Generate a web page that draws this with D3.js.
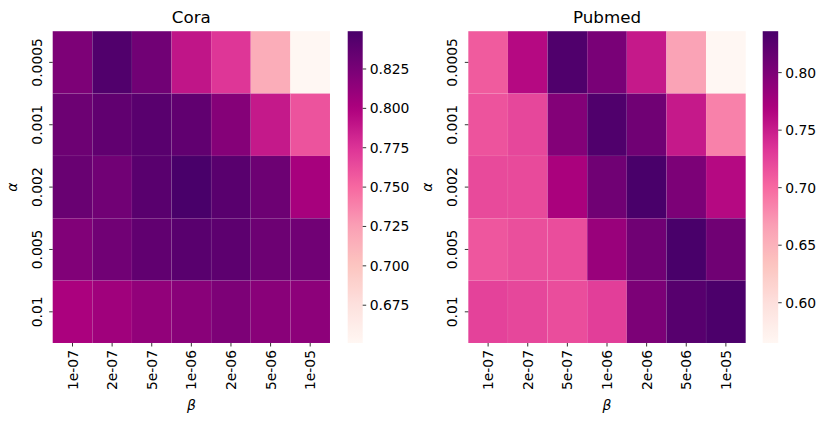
<!DOCTYPE html>
<html>
<head>
<meta charset="utf-8">
<script src="https://cdn.jsdelivr.net/npm/d3@7"></script>
<style>
  body { margin: 0; background: #fff; }
  svg { font-family: "DejaVu Sans", sans-serif; }
</style>
</head>
<body>
<div id="chart"></div>
<script>
// tick labels
const betaLabels = ["1e-07", "2e-07", "5e-07", "1e-06", "2e-06", "5e-06", "1e-05"];
const alphaLabels = ["0.0005", "0.001", "0.002", "0.005", "0.01"];

// accuracy grid, rows = alpha, cols = beta
const coraValues = [
  [0.823, 0.845, 0.829, 0.790, 0.774, 0.716, 0.651],
  [0.831, 0.837, 0.841, 0.837, 0.819, 0.788, 0.760],
  [0.833, 0.829, 0.841, 0.849, 0.841, 0.831, 0.803],
  [0.821, 0.829, 0.837, 0.841, 0.839, 0.831, 0.829],
  [0.801, 0.806, 0.813, 0.817, 0.823, 0.817, 0.815]
];
const pubmedValues = [
  [0.709, 0.763, 0.831, 0.803, 0.752, 0.663, 0.565],
  [0.714, 0.722, 0.796, 0.831, 0.809, 0.752, 0.685],
  [0.720, 0.720, 0.771, 0.809, 0.836, 0.801, 0.763],
  [0.712, 0.717, 0.718, 0.782, 0.809, 0.836, 0.809],
  [0.725, 0.722, 0.718, 0.728, 0.801, 0.826, 0.834]
];

// colorbar ticks
const coraTicks = [0.675, 0.700, 0.725, 0.750, 0.775, 0.800, 0.825];
const pubmedTicks = [0.60, 0.65, 0.70, 0.75, 0.80];

// matplotlib RdPu stops
const rdpu = ["#fff7f3", "#fde0dd", "#fcc5c0", "#fa9fb5", "#f768a1",
              "#dd3497", "#ae017e", "#7a0177", "#49006a"];

const width = 830, height = 425;
const plotTop = 31.2, plotBottom = 343;

const svg = d3.select("#chart").append("svg")
  .attr("width", width)
  .attr("height", height);
const defs = svg.append("defs");

function drawHeatmap(opts) {
  const values = opts.values;
  const flat = values.flat();
  const vmin = d3.min(flat), vmax = d3.max(flat);

  const t = d3.scaleLinear().domain([vmin, vmax]).range([0, 1]);
  const stops = d3.scaleLinear()
    .domain(d3.range(rdpu.length).map(i => i / (rdpu.length - 1)))
    .range(rdpu)
    .interpolate(d3.interpolateRgb);
  const color = v => stops(t(v));

  const x = d3.scaleBand().domain(betaLabels).range([opts.left, opts.right]);
  const y = d3.scaleBand().domain(alphaLabels).range([plotTop, plotBottom]);

  const g = svg.append("g");

  // cells
  values.forEach((row, i) => {
    row.forEach((v, j) => {
      g.append("rect")
        .attr("x", x(betaLabels[j]))
        .attr("y", y(alphaLabels[i]))
        .attr("width", x.bandwidth())
        .attr("height", y.bandwidth())
        .attr("fill", color(v))
        .attr("stroke", "#ffffff")
        .attr("stroke-opacity", 0.06)
        .attr("stroke-width", 0.6);
    });
  });

  // x ticks
  betaLabels.forEach(b => {
    const cx = x(b) + x.bandwidth() / 2;
    g.append("line")
      .attr("x1", cx).attr("x2", cx)
      .attr("y1", plotBottom).attr("y2", plotBottom + 3.5)
      .attr("stroke", "#000").attr("stroke-width", 0.8);
    g.append("text")
      .attr("transform", `translate(${cx},${plotBottom + 7}) rotate(-90)`)
      .attr("text-anchor", "end")
      .attr("dominant-baseline", "central")
      .style("font-size", "13.9px")
      .text(b);
  });

  // y ticks
  alphaLabels.forEach(a => {
    const cy = y(a) + y.bandwidth() / 2;
    g.append("line")
      .attr("x1", opts.left - 3.5).attr("x2", opts.left)
      .attr("y1", cy).attr("y2", cy)
      .attr("stroke", "#000").attr("stroke-width", 0.8);
    g.append("text")
      .attr("transform", `translate(${opts.left - 11},${cy}) rotate(-90)`)
      .attr("text-anchor", "middle")
      .style("font-size", "13.9px")
      .text(a);
  });

  // axis labels
  const midX = (opts.left + opts.right) / 2;
  g.append("text")
    .attr("x", midX).attr("y", 410)
    .attr("text-anchor", "middle")
    .style("font-size", "13.9px")
    .style("font-style", "italic")
    .text("β");
  g.append("text")
    .attr("transform", `translate(${opts.left - 36},${(plotTop + plotBottom) / 2}) rotate(-90)`)
    .attr("text-anchor", "middle")
    .style("font-size", "13.9px")
    .style("font-style", "italic")
    .text("α");

  // title
  g.append("text")
    .attr("x", midX).attr("y", 23)
    .attr("text-anchor", "middle")
    .style("font-size", "16.7px")
    .text(opts.title);

  // colorbar as a vertical gradient
  const gradId = "grad-" + opts.title;
  const grad = defs.append("linearGradient")
    .attr("id", gradId)
    .attr("x1", 0).attr("y1", 1)
    .attr("x2", 0).attr("y2", 0);
  d3.range(0, 1.0001, 0.02).forEach(p => {
    grad.append("stop")
      .attr("offset", p)
      .attr("stop-color", stops(p));
  });
  g.append("rect")
    .attr("x", opts.cbLeft)
    .attr("y", plotTop)
    .attr("width", opts.cbWidth)
    .attr("height", plotBottom - plotTop)
    .attr("fill", `url(#${gradId})`);

  const cb = d3.scaleLinear().domain([vmin, vmax]).range([plotBottom, plotTop]);
  opts.ticks.forEach(tv => {
    const ty = cb(tv);
    g.append("line")
      .attr("x1", opts.cbLeft + opts.cbWidth).attr("x2", opts.cbLeft + opts.cbWidth + 3.5)
      .attr("y1", ty).attr("y2", ty)
      .attr("stroke", "#000").attr("stroke-width", 0.8);
    g.append("text")
      .attr("x", opts.cbLeft + opts.cbWidth + 7)
      .attr("y", ty)
      .attr("dominant-baseline", "central")
      .style("font-size", "13.9px")
      .text(opts.fmt(tv));
  });
}

drawHeatmap({
  title: "Cora", values: coraValues, ticks: coraTicks,
  left: 52.7, right: 330, cbLeft: 347.7, cbWidth: 15,
  fmt: d3.format(".3f")
});

drawHeatmap({
  title: "Pubmed", values: pubmedValues, ticks: pubmedTicks,
  left: 468.3, right: 745.7, cbLeft: 762.7, cbWidth: 15.5,
  fmt: d3.format(".2f")
});
</script>
</body>
</html>
